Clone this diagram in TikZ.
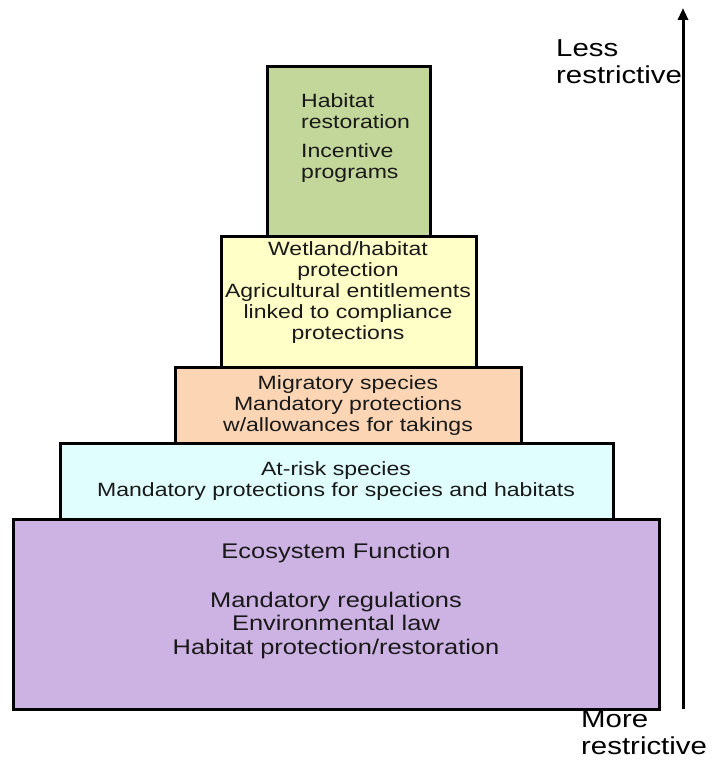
\documentclass[tikz,border=0pt]{standalone}
\usepackage{fontspec}
\setmainfont{Liberation Sans}[FakeStretch=1.2]
\usepackage{tikz}
\usetikzlibrary{arrows.meta}

\definecolor{tiergreen}{RGB}{196,215,155}
\definecolor{tieryellow}{RGB}{255,255,200}
\definecolor{tierpeach}{RGB}{252,213,181}
\definecolor{tiercyan}{RGB}{224,254,254}
\definecolor{tierpurple}{RGB}{205,179,228}

\begin{document}
\begin{tikzpicture}[x=1pt,y=-1pt,line join=miter,
  tier/.style={draw=black,line width=3pt,inner sep=0pt},
  tiertext/.style={inner sep=0pt,align=center,text=black!90,font=\fontsize{19.2}{21}\selectfont},
  sidetext/.style={inner sep=0pt,align=left,anchor=west,font=\fontsize{24.5}{27}\selectfont}]
\useasboundingbox (0,0) rectangle (719,768);
% tiers of the pyramid
\node[tier,fill=tierpurple,minimum width=646,minimum height=190] (ecosystem) at (336,614) {};
\node[tier,fill=tiercyan,minimum width=553,minimum height=76] (atrisk) at (336.5,481) {};
\node[tier,fill=tierpeach,minimum width=346,minimum height=76] (migratory) at (348,405) {};
\node[tier,fill=tieryellow,minimum width=255,minimum height=131] (wetland) at (348.5,301.5) {};
\node[tier,fill=tiergreen,minimum width=163,minimum height=169] (habitat) at (348.5,151.5) {};
% texts
\node[tiertext,align=left,anchor=west] (habitattext) at (301,138.5)
  {Habitat\\restoration\\[8pt]Incentive\\programs};
\node[tiertext] (wetlandtext) at (348,293)
  {Wetland/habitat\\protection\\Agricultural entitlements\\linked to compliance\\protections};
\node[tiertext] (migratorytext) at (348,406)
  {Migratory species\\Mandatory protections\\w/allowances for takings};
\node[tiertext] (atrisktext) at (336,481.5)
  {At-risk species\\Mandatory protections for species and habitats};
\node[tiertext,font=\fontsize{21.2}{23.5}\selectfont] (ecosystemtext) at (336,601)
  {Ecosystem Function\\[25pt]Mandatory regulations\\Environmental law\\Habitat protection/restoration};
% scale
\coordinate (arrbot) at (683,709);
\coordinate (arrtop) at (683,8);
\draw[line width=3pt,-{Triangle[length=12pt,width=10pt]}] (arrbot) -- (arrtop);
\node[sidetext] (less) at (556,61.5) {Less\\restrictive};
\node[sidetext] (more) at (581,733) {More\\restrictive};
\end{tikzpicture}
\end{document}
